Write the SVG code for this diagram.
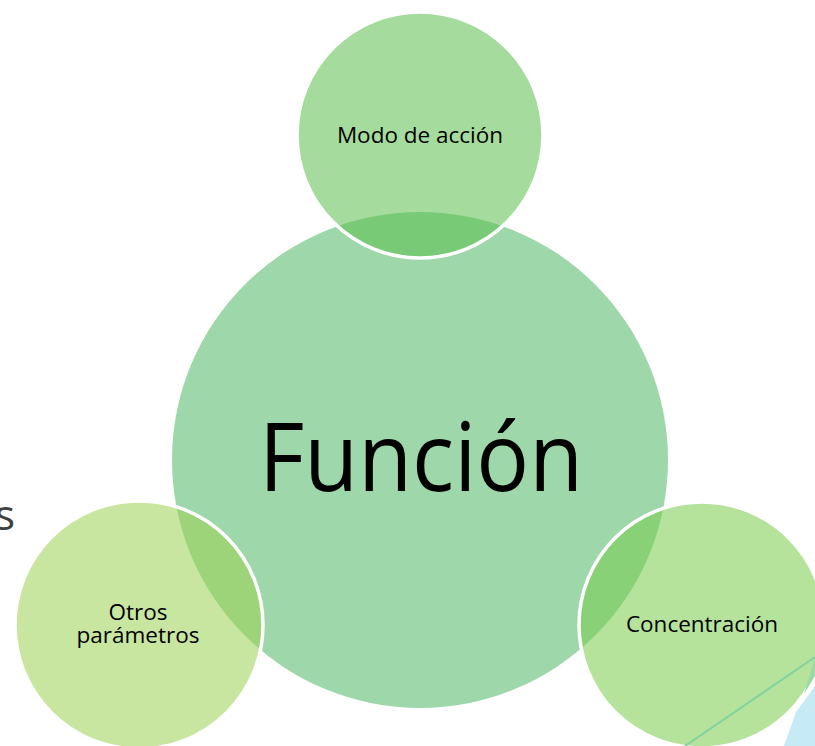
<svg xmlns="http://www.w3.org/2000/svg" width="815" height="746" viewBox="0 0 815 746">
  <style>
    .lbl { font-family: "Open Sans", "DejaVu Sans", sans-serif; font-size: 22.5px; fill: #000000; text-anchor: middle; }
    .big { font-family: "Open Sans", "DejaVu Sans", sans-serif; font-size: 96px; fill: #000000; text-anchor: middle; }
    .outer { stroke: #FFFFFF; stroke-width: 3.5; }
  </style>
  <rect width="815" height="746" fill="#FFFFFF"/>
  <g id="background">
    <text x="15" y="530" font-family="'Open Sans', 'DejaVu Sans', sans-serif" font-size="42" fill="#404040" text-anchor="end">s</text>
    <polygon points="784,746 796,712 815,686 815,746" fill="#C6EBF7"/>
    <circle cx="702" cy="625" r="127" fill="#FFFFFF"/>
  </g>
  <g id="connectors"></g>
  <g id="node-funcion">
    <circle cx="420" cy="460" r="248" fill="#9ED7AA"/>
    <text class="big" x="421" y="491" textLength="324" lengthAdjust="spacingAndGlyphs">Función</text>
  </g>
  <g id="node-modo">
    <circle class="outer" cx="420" cy="135" r="123" fill="#58BE4B" fill-opacity="0.54"/>
    <text class="lbl" x="420" y="143">Modo de acción</text>
  </g>
  <g id="node-concentracion">
    <circle class="outer" cx="702" cy="625" r="123" fill="#78CC4B" fill-opacity="0.55"/>
    <polygon points="815,657 815,676 804,694" fill="#9BDAA5"/>
    <line x1="685" y1="746" x2="815" y2="657" stroke="#80D39E" stroke-width="2"/>
    <text class="lbl" x="702" y="632">Concentración</text>
  </g>
  <g id="node-otros">
    <circle class="outer" cx="139" cy="625" r="124" fill="#9CD152" fill-opacity="0.55"/>
    <text class="lbl" x="138" y="620">Otros</text>
    <text class="lbl" x="138" y="643">parámetros</text>
  </g>
</svg>
